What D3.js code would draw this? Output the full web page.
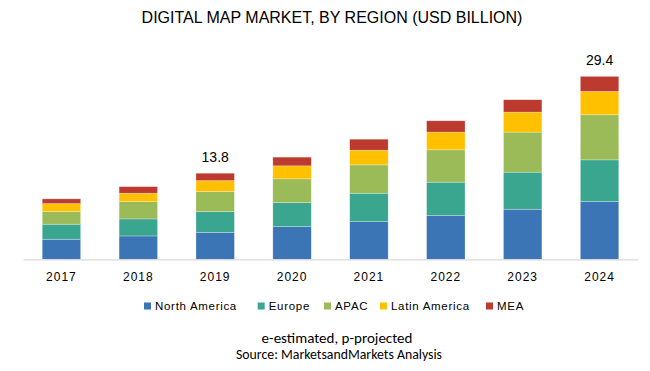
<!DOCTYPE html>
<html>
<head>
<meta charset="utf-8">
<script src="https://cdn.jsdelivr.net/npm/d3@7"></script>
<style>
  body { margin: 0; background: #fff; }
  svg text { fill: #000; }
</style>
</head>
<body>
<div id="chart"></div>
<script>
var years = ["2017", "2018", "2019", "2020", "2021", "2022", "2023", "2024"];
var regions = ["North America", "Europe", "APAC", "Latin America", "MEA"];
var colors = ["#3b75b6", "#3ba68f", "#9bbb59", "#ffc000", "#bd3a2e"];

// values (USD billion)
var northAmerica = [3.23, 3.76, 4.35, 5.26, 6.06, 7.03, 8.06, 9.29];
var europe       = [2.42, 2.74, 3.32, 3.87, 4.58, 5.39, 5.97, 6.72];
var apac         = [2.03, 2.79, 3.23, 3.82, 4.56, 5.21, 6.45, 7.26];
var latinAmerica = [1.29, 1.35, 1.77, 2.10, 2.37, 2.85, 3.22, 3.76];
var mea          = [0.76, 1.06, 1.19, 1.40, 1.77, 1.82, 1.99, 2.42];

var totalLabels = [
  {year: "2019", text: "13.8"},
  {year: "2024", text: "29.4"}
];

var width = 650, height = 371;
var margin = {top: 50, left: 23, right: 12, bottom: 112};

var svg = d3.select("#chart").append("svg")
    .attr("width", width)
    .attr("height", height);

var series = [northAmerica, europe, apac, latinAmerica, mea];
var table = years.map(function(y, i) {
  var row = {year: y};
  regions.forEach(function(r, k) { row[r] = series[k][i]; });
  return row;
});
var stacked = d3.stack().keys(regions)(table);

var xScale = d3.scaleBand().domain(years)
    .range([margin.left, width - margin.right])
    .paddingInner(0.5).paddingOuter(0.25);
var yScale = d3.scaleLinear().domain([0, 29.4])
    .range([259.3, 76.7]);

// title
svg.append("text")
    .attr("x", 332).attr("y", 23)
    .attr("text-anchor", "middle")
    .style("font-family", "'Liberation Sans Narrow', 'Arial Narrow', sans-serif")
    .style("font-stretch", "condensed")
    .style("font-size", "16px")
    .text("DIGITAL  MAP MARKET, BY REGION (USD BILLION)");

// bars
svg.append("g").selectAll("g")
    .data(stacked)
    .join("g")
    .attr("fill", function(d, i) { return colors[i]; })
    .selectAll("rect")
    .data(function(d) { return d; })
    .join("rect")
    .attr("x", function(d) { return xScale(d.data.year); })
    .attr("width", xScale.bandwidth())
    .attr("y", function(d) { return yScale(d[1]); })
    .attr("height", function(d) { return yScale(d[0]) - yScale(d[1]); })
    .attr("stroke", "rgba(255,255,255,0.45)")
    .attr("stroke-width", 0.6);

// x axis
var xAxis = d3.axisBottom(xScale).tickSize(0).tickPadding(13);
var gx = svg.append("g")
    .attr("transform", "translate(0," + yScale(0) + ")")
    .call(xAxis);
gx.select(".domain").attr("stroke", "#d9d9d9").attr("stroke-width", 1.2);
gx.selectAll("text")
    .style("font-family", "Arial, 'Liberation Sans', sans-serif")
    .style("font-size", "12px")
    .style("letter-spacing", "1px")
    .attr("fill", "#000");

// total labels
svg.append("g").selectAll("text")
    .data(totalLabels)
    .join("text")
    .attr("x", function(d) { return xScale(d.year) + xScale.bandwidth() / 2; })
    .attr("y", function(d) {
      var i = years.indexOf(d.year);
      var tot = d3.sum(series, function(s) { return s[i]; });
      return yScale(tot) - 11;
    })
    .attr("text-anchor", "middle")
    .style("font-family", "Arial, 'Liberation Sans', sans-serif")
    .style("font-size", "14px")
    .text(function(d) { return d.text; });

// legend
var legendX = [144, 257.7, 324, 380, 486];
var legend = svg.append("g").selectAll("g")
    .data(regions)
    .join("g")
    .attr("transform", function(d, i) { return "translate(" + legendX[i] + ",306)"; });
legend.append("rect")
    .attr("x", 0).attr("y", -3.5)
    .attr("width", 7).attr("height", 7)
    .attr("fill", function(d, i) { return colors[i]; });
legend.append("text")
    .attr("x", 11).attr("y", 4)
    .style("font-family", "Arial, 'Liberation Sans', sans-serif")
    .style("font-size", "11.5px")
    .style("letter-spacing", "0.7px")
    .text(function(d) { return d; });

// footer
svg.append("text")
    .attr("x", 337).attr("y", 343)
    .attr("text-anchor", "middle")
    .style("font-family", "Calibri, Carlito, 'Open Sans', sans-serif")
    .style("font-size", "15px")
    .text("e-estimated, p-projected");
svg.append("text")
    .attr("x", 339).attr("y", 359)
    .attr("text-anchor", "middle")
    .style("font-family", "Calibri, Carlito, 'Open Sans', sans-serif")
    .style("font-size", "13.8px")
    .text("Source: MarketsandMarkets Analysis");
</script>
</body>
</html>
